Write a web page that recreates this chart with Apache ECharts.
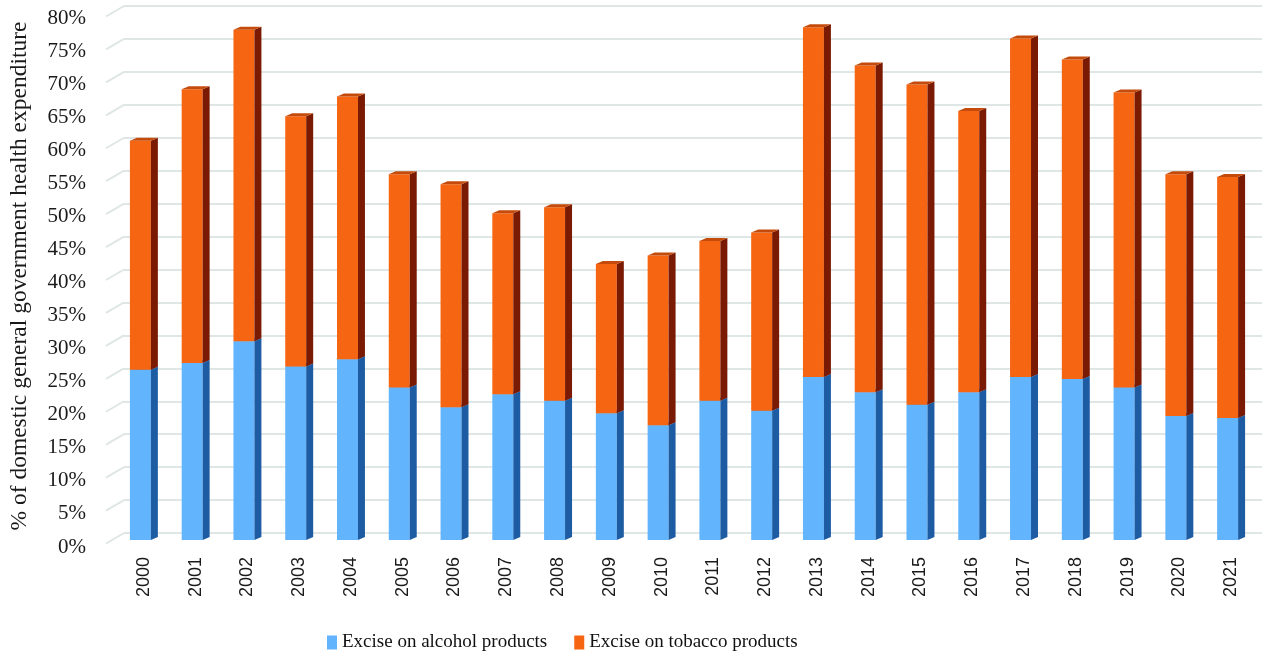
<!DOCTYPE html>
<html>
<head>
<meta charset="utf-8">
<title>Excise revenue as % of domestic general government health expenditure</title>
<script src="https://cdn.jsdelivr.net/npm/echarts@6/dist/echarts.min.js"></script>
<style>
  html, body { margin: 0; padding: 0; background: #ffffff; }
  #chart { width: 1262px; height: 654px; }
</style>
</head>
<body>
<div id="chart"></div>
<script>
// Years on the category axis
const years = ['2000', '2001', '2002', '2003', '2004', '2005', '2006', '2007', '2008', '2009', '2010',
  '2011', '2012', '2013', '2014', '2015', '2016', '2017', '2018', '2019', '2020', '2021'];

// Excise on alcohol products, % of domestic general government health expenditure
const alcohol = [25.8, 26.8, 30.1, 26.3, 27.4, 23.1, 20.1, 22.1, 21.1, 19.2, 17.4,
  21.1, 19.6, 24.7, 22.4, 20.5, 22.4, 24.7, 24.4, 23.1, 18.8, 18.5];

// Excise on tobacco products, % of domestic general government health expenditure
const tobacco = [34.7, 41.5, 47.2, 37.9, 39.8, 32.3, 33.8, 27.4, 29.3, 22.6, 25.7,
  24.2, 27.0, 53.0, 49.5, 48.5, 42.6, 51.3, 48.4, 44.7, 36.6, 36.5];

// Value-axis ticks (percent)
const yTicks = [0, 5, 10, 15, 20, 25, 30, 35, 40, 45, 50, 55, 60, 65, 70, 75, 80];

const seriesNames = ['Excise on alcohol products', 'Excise on tobacco products'];

// Face colours of the prism columns: front, side, top
const palette = {
  alcohol: { front: '#62b4fd', side: '#1d5ca3', top: '#3f8ad6' },
  tobacco: { front: '#f66511', side: '#7a1a02', top: '#c44b0b' }
};

const serifFont = '"Liberation Serif", "DejaVu Serif", serif';
const sansFont = '"Liberation Sans", Arial, sans-serif';

// Draws one stacked segment as a shaded prism: front face, right side and top
function prism(colors) {
  return function (params, api) {
    const i = api.value(0);
    const lo = api.value(1);
    const hi = api.value(2);
    const pTop = api.coord([i, hi]);
    const pBase = api.coord([i, lo]);
    const band = api.size([1, 0])[0];
    const fw = band * 0.405;      // front face width
    const dx = band * 0.135;      // depth, horizontal
    const dy = 3;                 // depth, vertical
    const x0 = pTop[0] - (fw + dx) / 2;
    const x1 = x0 + fw;
    const yT = pTop[1];
    const yB = pBase[1];
    return {
      type: 'group',
      children: [
        {
          type: 'rect',
          shape: { x: x0, y: yT, width: fw, height: yB - yT },
          style: { fill: colors.front }
        },
        {
          type: 'polygon',
          shape: { points: [[x1, yT], [x1 + dx, yT - dy], [x1 + dx, yB - dy], [x1, yB]] },
          style: { fill: colors.side }
        },
        {
          type: 'polygon',
          shape: { points: [[x0, yT], [x0 + dx, yT - dy], [x1 + dx, yT - dy], [x1, yT]] },
          style: { fill: colors.top }
        }
      ]
    };
  };
}

// Floor stubs: short slanted segments joining the front edge to the back wall
function floorStub(params, api) {
  const p = api.coord([0, api.value(1)]);
  return {
    type: 'line',
    shape: { x1: p[0] - 18, y1: p[1] + 10.5, x2: p[0], y2: p[1] },
    style: { stroke: '#dfe6e6', lineWidth: 2 }
  };
}

const alcoholData = years.map((y, i) => [i, 0, alcohol[i]]);
const tobaccoData = years.map((y, i) => [i, alcohol[i], alcohol[i] + tobacco[i]]);

const chart = echarts.init(document.getElementById('chart'), null, { renderer: 'canvas' });

const hiddenValueAxis = (grid) => ({
  gridIndex: grid, type: 'value', min: 0, max: 80, interval: 5,
  axisLine: { show: false }, axisTick: { show: false },
  splitLine: { show: false }, axisLabel: { show: false }
});

chart.setOption({
  backgroundColor: '#ffffff',
  animation: false,
  grid: [
    // back wall with the gridlines
    { left: 124, right: -3, top: 6, bottom: 121 },
    // columns and year labels
    { left: 116, right: 5, top: 12, bottom: 114 },
    // front edge carrying the percentage labels
    { left: 124, right: -3, top: 18, bottom: 107 }
  ],
  xAxis: [
    { gridIndex: 0, type: 'value', min: 0, max: 1, show: false },
    {
      gridIndex: 1,
      type: 'category',
      data: years,
      axisLine: { show: false },
      axisTick: { show: false },
      axisLabel: {
        rotate: 90,
        margin: 17,
        fontFamily: sansFont,
        fontSize: 18,
        color: '#1a1a1a'
      }
    },
    { gridIndex: 2, type: 'value', min: 0, max: 1, show: false }
  ],
  yAxis: [
    Object.assign(hiddenValueAxis(0), {
      splitLine: { show: true, lineStyle: { color: '#dfe6e6', width: 2 } }
    }),
    Object.assign(hiddenValueAxis(1), {
      name: '% of domestic general government health expenditure',
      nameLocation: 'middle',
      nameGap: 86,
      nameTextStyle: {
        fontFamily: serifFont,
        fontSize: 23.5,
        color: '#1a1a1a'
      }
    }),
    Object.assign(hiddenValueAxis(2), {
      axisLabel: {
        show: true,
        formatter: '{value}%',
        margin: 38,
        fontFamily: serifFont,
        fontSize: 21,
        color: '#1a1a1a'
      }
    })
  ],
  legend: {
    data: seriesNames,
    left: 322,
    top: 628,
    icon: 'rect',
    itemWidth: 10,
    itemHeight: 14,
    itemGap: 27,
    textStyle: { fontFamily: serifFont, fontSize: 19, color: '#111111' }
  },
  series: [
    {
      name: 'floor',
      type: 'custom',
      xAxisIndex: 0,
      yAxisIndex: 0,
      silent: true,
      data: yTicks.map(v => [0, v]),
      renderItem: floorStub,
      z: 1
    },
    {
      name: seriesNames[0],
      type: 'custom',
      xAxisIndex: 1,
      yAxisIndex: 1,
      itemStyle: { color: palette.alcohol.front },
      encode: { x: 0, y: [1, 2] },
      data: alcoholData,
      renderItem: prism(palette.alcohol),
      z: 3
    },
    {
      name: seriesNames[1],
      type: 'custom',
      xAxisIndex: 1,
      yAxisIndex: 1,
      itemStyle: { color: palette.tobacco.front },
      encode: { x: 0, y: [1, 2] },
      data: tobaccoData,
      renderItem: prism(palette.tobacco),
      z: 4
    }
  ]
});
</script>
</body>
</html>
